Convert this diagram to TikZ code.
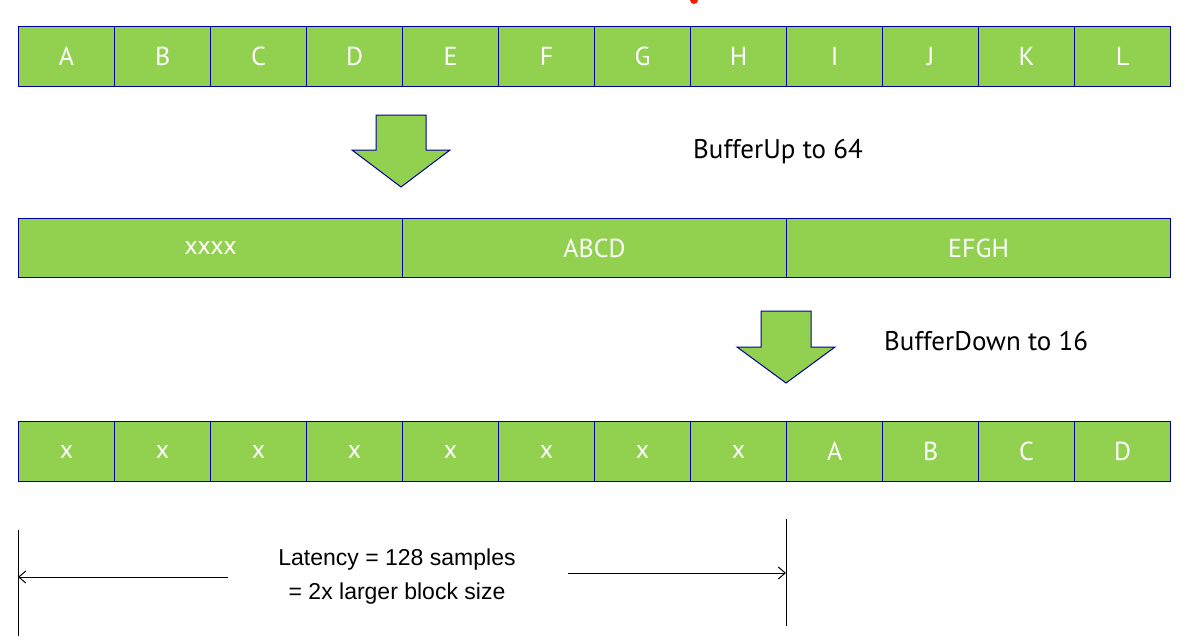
\documentclass[tikz,border=0pt]{standalone}
\usetikzlibrary{arrows.meta}
\usepackage{fontspec}
\setmainfont{PT Sans}
\newfontfamily\arialf{Liberation Sans}
\begin{document}
\begin{tikzpicture}[x=1pt,y=-1pt,
  cell/.style={draw=blue!60!black,line width=1.2pt,fill=gcol,text=white,font=\fontsize{26}{28}\selectfont,anchor=north west,inner sep=0pt},
  barrow/.style={draw=blue!60!black,line width=1pt,fill=gcol},
  lab/.style={font=\fontsize{27}{30}\selectfont,anchor=west,inner sep=0pt},
  dim/.style={line width=1pt,-{Straight Barb[length=7pt,width=12pt]}}]
\definecolor{gcol}{HTML}{92D050}
\useasboundingbox (0,0) rectangle (1200,642);
\fill[red!80!orange] (694,0) circle (4);
\foreach \t [count=\i from 0] in {A,B,C,D,E,F,G,H,I,J,K,L}
  \node[cell,minimum width=96pt,minimum height=60pt] (t\i) at (18+96*\i,26) {\t};
\foreach \t [count=\i from 0] in {x,x,x,x,x,x,x,x,A,B,C,D}
  \node[cell,minimum width=96pt,minimum height=60pt] (b\i) at (18+96*\i,421) {\t};
\foreach \t [count=\i from 0] in {xxxx,ABCD,EFGH}
  \node[cell,minimum width=384pt,minimum height=59pt] (m\i) at (18+384*\i,218) {\t};
\draw[barrow] (376,115) -- (426,115) -- (426,150) -- (450,150) -- (401,187) -- (352,150) -- (376,150) -- cycle;
\draw[barrow] (761,311) -- (811,311) -- (811,347) -- (835,347) -- (786,383) -- (737,347) -- (761,347) -- cycle;
\node[lab] (up) at (693,152) {BufferUp to 64};
\node[lab] (down) at (884,341) {BufferDown to 16};
\coordinate (l1) at (18,530); \coordinate (l2) at (18,636);
\coordinate (r1) at (786,519); \coordinate (r2) at (786,626);
\draw[line width=1pt] (l1) -- (l2);
\draw[line width=1pt] (r1) -- (r2);
\node[font=\arialf\fontsize{23}{34}\selectfont,align=center] (lat) at (397,577) {Latency = 128 samples\\= 2x larger block size};
\coordinate (a1) at (18,577); \coordinate (a2) at (228,577);
\coordinate (a3) at (568,573); \coordinate (a4) at (786,573);
\draw[dim] (a2) -- (a1);
\draw[dim] (a3) -- (a4);
\end{tikzpicture}
\end{document}
